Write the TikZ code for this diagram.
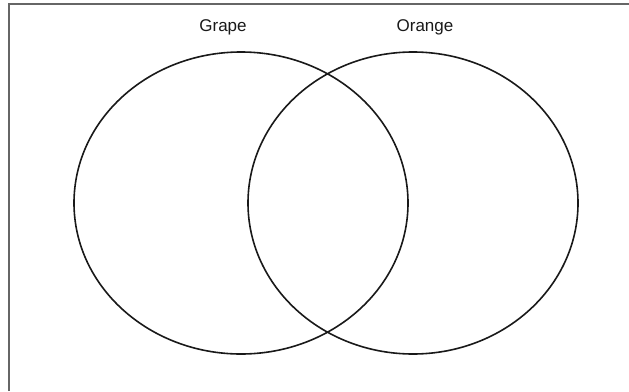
\documentclass[tikz,border=0pt]{standalone}
\usepackage{fontspec}
\setmainfont{Liberation Sans}
\usepackage{tikz}
\usetikzlibrary{shapes.geometric, positioning}

\tikzset{
    setbox/.style={draw=black!90, line width=1.6pt, ellipse, inner sep=0pt},
    setlabel/.style={font=\fontsize{17}{20}\selectfont, text=black!90},
    frameline/.style={draw=black!60, line width=1.6pt}
}

\begin{document}
\begin{tikzpicture}[x=1pt, y=-1pt]
    \useasboundingbox (0,0) rectangle (629,391);

    % Frame (left and top edges only)
    \coordinate (fbl) at (9,391);
    \coordinate (ftl) at (9,4);
    \coordinate (ftr) at (629,4);
    \draw[frameline] (fbl) -- (ftl) -- (ftr);

    % Sets
    \node[setbox, minimum width=334pt, minimum height=302pt] (grape) at (241,203) {};
    \node[setbox, minimum width=330pt, minimum height=302pt] (orange) at (413,203) {};

    % Labels
    \node[setlabel] (grapelabel) at (223,27) {Grape};
    \node[setlabel] (orangelabel) at (425,27) {Orange};
\end{tikzpicture}
\end{document}
